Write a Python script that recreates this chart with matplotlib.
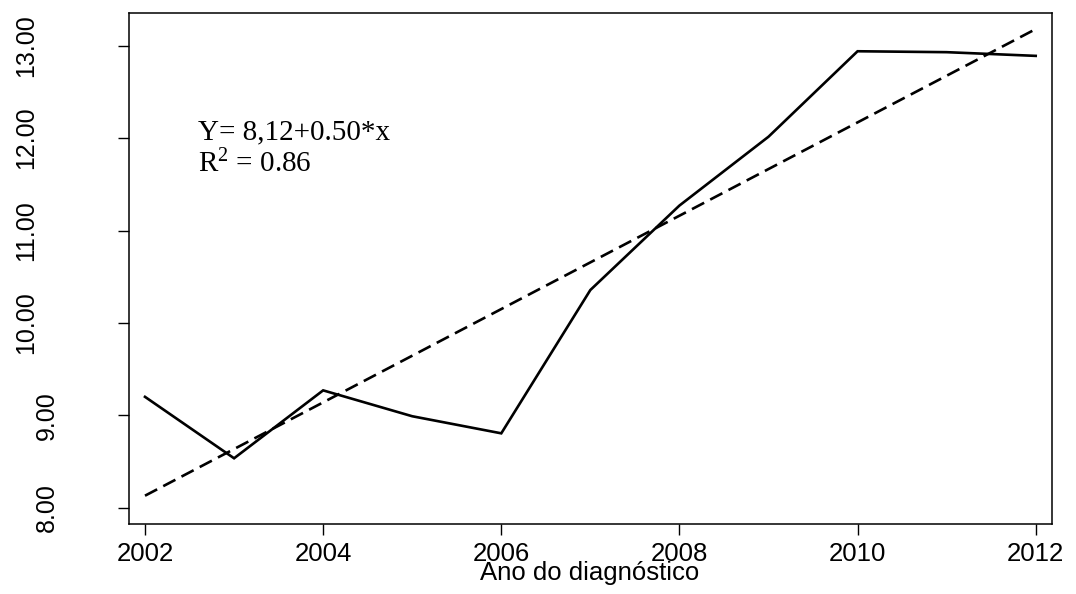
#! /usr/bin/python3
"""Tendencia anual com reta de regressao (estilo grafico base do R)."""
import matplotlib
matplotlib.use("Agg")
import matplotlib.pyplot as plt
from matplotlib.transforms import blended_transform_factory

# valores
anos = [2002, 2003, 2004, 2005, 2006, 2007, 2008, 2009, 2010, 2011, 2012]
valores = [9.20, 8.535, 9.27, 8.99, 8.805, 10.356, 11.27, 12.015, 12.94, 12.93, 12.89]
# reta ajustada: extremos em 2002 e 2012
anos_reta = [2002, 2012]
valores_reta = [8.13, 13.18]

xticks = [2002, 2004, 2006, 2008, 2010, 2012]
yticks = [8, 9, 10, 11, 12, 13]
eq_texto = "Y= 8,12+0.50*x"
r2_texto = r"R$^{2}$ = 0.86"
xlabel = "Ano do diagnóstico"

plt.rcParams["font.family"] = ["Liberation Sans", "DejaVu Sans"]
plt.rcParams["mathtext.fontset"] = "custom"
plt.rcParams["mathtext.rm"] = "Liberation Serif"
plt.rcParams["mathtext.it"] = "Liberation Serif:italic"

W, H = 1076, 594
fig = plt.figure(figsize=(W / 100, H / 100), dpi=100)
ax = fig.add_axes([128.7 / W, 1 - 523.7 / H, (1052 - 128.7) / W, (523.7 - 13) / H])

ax.plot(anos, valores, color="black", lw=1.9, solid_joinstyle="miter")
ax.plot(anos_reta, valores_reta, color="black", lw=1.9, dashes=(5.2, 2.6))

ax.set_xlim(2001.817, 2012.183)
ax.set_ylim(7.827, 13.354)
ax.set_xticks(xticks)
ax.set_yticks(yticks)
ax.set_yticklabels([])
ax.tick_params(axis="both", direction="out", length=8, width=1.0,
               labelsize=18.5, color="black")
ax.tick_params(axis="x", pad=5)
for s in ax.spines.values():
    s.set_linewidth(1.1)

# rotulos do eixo y: os de dois digitos ficam mais a esquerda (como no original)
tr = blended_transform_factory(fig.transFigure, ax.transData)
for v in yticks:
    xc = 26 if v >= 10 else 47
    ax.text(xc / W, v, f"{v:.2f}", transform=tr, rotation=90,
            ha="center", va="center", fontsize=18, rotation_mode="anchor")

ax.text(198 / W, 1 - 139.3 / H, eq_texto, transform=fig.transFigure,
        family="Liberation Serif", fontsize=21, va="baseline", ha="left")
ax.text(198 / W, 1 - 172.7 / H, r2_texto, transform=fig.transFigure,
        family="Liberation Serif", fontsize=21, va="baseline", ha="left")

fig.text(590 / W, 1 - 580 / H, xlabel, fontsize=18.5, ha="center", va="baseline")

fig.savefig("out.png", dpi=100)
